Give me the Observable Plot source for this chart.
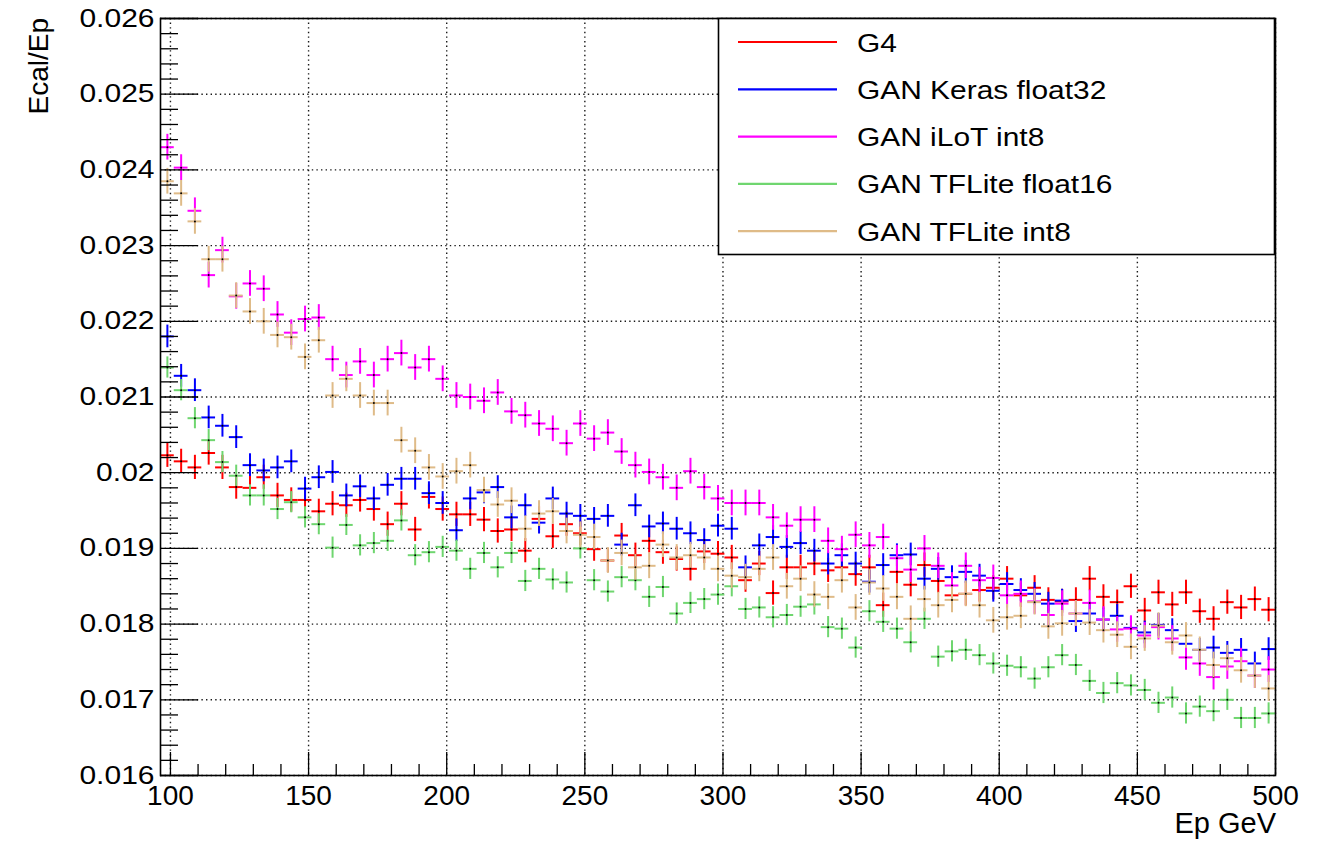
<!DOCTYPE html>
<html><head><meta charset="utf-8">
<script src="https://cdn.jsdelivr.net/npm/d3@7"></script>
<script src="https://cdn.jsdelivr.net/npm/@observablehq/plot@0.6"></script>
<style>
html,body{margin:0;padding:0;background:#fff;}
#wrap{position:relative;width:1327px;height:841px;}
</style></head><body><div id="wrap"></div>
<script>
// ---- data -------------------------------------------------------------
const seriesNames = ["G4", "GAN Keras float32", "GAN iLoT int8", "GAN TFLite float16", "GAN TFLite int8"];
const seriesColors = ["#ff0000", "#0000ff", "#ff00ff", "#6fd66f", "#dfbb88"];

// histogram binning of Ep (GeV): 81 bins over the axis range
const binRange = [96.4, 500];
const nBins = 81;

const g4 = [0.02023,0.02015,0.02007,0.02026,0.02007,0.01981,0.01980,0.01994,0.01970,0.01964,
0.01964,0.01949,0.01959,0.01957,0.01964,0.01952,0.01932,0.01959,0.01925,0.01968,
0.01952,0.01945,0.01945,0.01938,0.01923,0.01925,0.01897,0.01939,0.01916,0.01932,
0.01920,0.01899,0.01884,0.01917,0.01891,0.01910,0.01895,0.01886,0.01873,0.01896,
0.01893,0.01888,0.01858,0.01880,0.01841,0.01875,0.01875,0.01880,0.01871,0.01875,
0.01866,0.01875,0.01825,0.01869,0.01852,0.01878,0.01857,0.01838,0.01840,0.01845,
0.01848,0.01860,0.01838,0.01848,0.01832,0.01830,0.01832,0.01860,0.01836,0.01829,
0.01850,0.01818,0.01842,0.01826,0.01842,0.01817,0.01807,0.01829,0.01822,0.01833,0.01819];

const kerasF32 = [0.02180,0.02128,0.02109,0.02073,0.02062,0.02047,0.02010,0.02003,0.02007,0.02015,
0.01979,0.01994,0.02001,0.01970,0.01982,0.01966,0.01984,0.01992,0.01992,0.01973,
0.01960,0.01924,0.01966,0.01974,0.01981,0.01941,0.01957,0.01934,0.01966,0.01946,
0.01943,0.01939,0.01943,0.01905,0.01957,0.01929,0.01933,0.01926,0.01920,0.01911,
0.01930,0.01926,0.01875,0.01904,0.01915,0.01902,0.01907,0.01897,0.01880,0.01891,
0.01880,0.01856,0.01878,0.01891,0.01892,0.01860,0.01873,0.01862,0.01869,0.01864,
0.01844,0.01853,0.01845,0.01840,0.01827,0.01831,0.01804,0.01814,0.01806,0.01811,
0.01795,0.01789,0.01799,0.01792,0.01774,0.01766,0.01769,0.01762,0.01766,0.01748,0.01767];

const ilotInt8 = [0.02430,0.02403,0.02346,0.02261,0.02294,0.02233,0.02250,0.02243,0.02209,0.02185,
0.02203,0.02205,0.02150,0.02129,0.02147,0.02129,0.02150,0.02158,0.02139,0.02150,
0.02124,0.02102,0.02100,0.02095,0.02106,0.02081,0.02076,0.02065,0.02058,0.02039,
0.02065,0.02045,0.02053,0.02028,0.02010,0.02001,0.01994,0.01980,0.02002,0.01981,
0.01966,0.01960,0.01960,0.01960,0.01941,0.01930,0.01938,0.01938,0.01910,0.01899,
0.01918,0.01904,0.01915,0.01887,0.01872,0.01900,0.01877,0.01851,0.01877,0.01858,
0.01861,0.01838,0.01840,0.01830,0.01812,0.01827,0.01814,0.01828,0.01806,0.01793,
0.01794,0.01785,0.01796,0.01781,0.01756,0.01748,0.01730,0.01744,0.01751,0.01732,0.01740];

const tfliteF16 = [0.02139,0.02109,0.02072,0.02043,0.02014,0.01996,0.01970,0.01970,0.01952,0.01961,
0.01941,0.01932,0.01901,0.01931,0.01904,0.01907,0.01910,0.01937,0.01891,0.01895,
0.01902,0.01897,0.01873,0.01894,0.01875,0.01894,0.01857,0.01873,0.01859,0.01855,
0.01900,0.01858,0.01843,0.01862,0.01858,0.01836,0.01849,0.01814,0.01828,0.01833,
0.01839,0.01850,0.01820,0.01822,0.01809,0.01812,0.01823,0.01826,0.01796,0.01794,
0.01769,0.01817,0.01803,0.01794,0.01776,0.01807,0.01757,0.01764,0.01766,0.01759,
0.01748,0.01745,0.01743,0.01728,0.01743,0.01759,0.01746,0.01725,0.01709,0.01722,
0.01719,0.01713,0.01696,0.01703,0.01682,0.01691,0.01685,0.01700,0.01676,0.01676,0.01682];

const tfliteInt8 = [0.02385,0.02369,0.02332,0.02282,0.02282,0.02234,0.02213,0.02200,0.02182,0.02179,
0.02153,0.02175,0.02102,0.02124,0.02102,0.02092,0.02092,0.02043,0.02029,0.02007,
0.01995,0.02002,0.02010,0.01977,0.01958,0.01963,0.01926,0.01946,0.01949,0.01923,
0.01918,0.01915,0.01884,0.01894,0.01875,0.01877,0.01905,0.01888,0.01891,0.01888,
0.01873,0.01864,0.01862,0.01873,0.01888,0.01850,0.01860,0.01839,0.01836,0.01858,
0.01822,0.01855,0.01847,0.01836,0.01807,0.01833,0.01825,0.01832,0.01840,0.01825,
0.01805,0.01809,0.01811,0.01829,0.01797,0.01801,0.01814,0.01802,0.01792,0.01786,
0.01770,0.01781,0.01798,0.01776,0.01785,0.01766,0.01746,0.01755,0.01739,0.01732,0.01715];

const seriesValues = [g4, kerasF32, ilotInt8, tfliteF16, tfliteInt8];
// typical half-length of the vertical error bars
const seriesErr = [0.00016, 0.00015, 0.00017, 0.00014, 0.00017];

const xTicks = [100, 150, 200, 250, 300, 350, 400, 450, 500];
const xTickLabels = ["100", "150", "200", "250", "300", "350", "400", "450", "500"];
const yTicks = [0.016, 0.017, 0.018, 0.019, 0.020, 0.021, 0.022, 0.023, 0.024, 0.025, 0.026];
const yTickLabels = ["0.016", "0.017", "0.018", "0.019", "0.02", "0.021", "0.022", "0.023", "0.024", "0.025", "0.026"];
const xTitle = "Ep GeV";
const yTitle = "Ecal/Ep";

// ---- build --------------------------------------------------------------
const bw = (binRange[1] - binRange[0]) / nBins;
const rows = [];
seriesValues.forEach((vals, s) => {
  vals.forEach((v, k) => {
    const lo = binRange[0] + k * bw;
    rows.push({series: seriesNames[s], lo, hi: lo + bw, x: lo + bw / 2, y: v, e: seriesErr[s]});
  });
});
const xMinor = d3.range(110, 500, 10).filter(d => d % 50 !== 0);
const yMinor = d3.range(0, 51).map(i => 0.016 + i * 0.0002).filter((d, i) => i % 5 !== 0);
const xLab = new Map(xTicks.map((d, i) => [d, xTickLabels[i]]));
const yLab = new Map(yTicks.map((d, i) => [d, yTickLabels[i]]));

const W = 1327, H = 841, mL = 160, mR = 52, mT = 18, mB = 66;
const innerW = W - mL - mR, innerH = H - mT - mB;

const gridStyle = {stroke: "#000", strokeOpacity: 0.9, strokeWidth: 1.4, strokeDasharray: "1.4,3.2"};
const marks = [
  Plot.gridX(xTicks, gridStyle),
  Plot.gridY(yTicks, gridStyle),
];
seriesNames.forEach((name) => {
  const d = rows.filter(r => r.series === name);
  marks.push(
    Plot.ruleY(d, {y: "y", x1: "lo", x2: "hi", stroke: "series", strokeWidth: 2}),
    Plot.ruleX(d, {x: "x", y1: r => r.y - r.e, y2: r => r.y + r.e, stroke: "series", strokeWidth: 2}),
    Plot.dot(d, {x: "x", y: "y", r: 1, fill: "#000", stroke: null})
  );
});
marks.push(
  // inward ticks (ROOT style)
  Plot.ruleX(xTicks, {x: d => d, insetTop: innerH - 23, stroke: "#000", strokeWidth: 1.3}),
  Plot.ruleX(xMinor, {x: d => d, insetTop: innerH - 11, stroke: "#000", strokeWidth: 1.3}),
  Plot.ruleY(yTicks, {y: d => d, insetRight: innerW - 38, stroke: "#000", strokeWidth: 1.3}),
  Plot.ruleY(yMinor, {y: d => d, insetRight: innerW - 18, stroke: "#000", strokeWidth: 1.3}),
  Plot.frame({stroke: "#000", strokeWidth: 1.6}),
  Plot.axisX(xTicks, {tickSize: 0, tickPadding: 10, tickFormat: d => xLab.get(d), label: null}),
  Plot.axisY(yTicks, {tickSize: 0, tickPadding: 6, tickFormat: d => yLab.get(d), label: null})
);

const svg = Plot.plot({
  width: W, height: H,
  marginLeft: mL, marginRight: mR, marginTop: mT, marginBottom: mB,
  x: {domain: binRange},
  y: {domain: [0.016, 0.026]},
  color: {domain: seriesNames, range: seriesColors},
  style: {fontFamily: "'Liberation Sans', Arial, sans-serif", fontSize: "24px", color: "#000", background: "#fff", overflow: "visible"},
  marks
});
document.getElementById("wrap").appendChild(svg);

const S = d3.select(svg);
const font = "'Liberation Sans', Arial, sans-serif";
function stretch(sel, k) {
  sel.each(function () {
    const L = this.getComputedTextLength();
    this.setAttribute("textLength", (L * k).toFixed(1));
    this.setAttribute("lengthAdjust", "spacingAndGlyphs");
  });
}
const yt = S.selectAll('g[aria-label="y-axis tick label"] text').attr("font-size", 25).attr("fill", "#000");
stretch(yt, 1.2);
S.selectAll('g[aria-label="x-axis tick label"] text').attr("font-size", 28).attr("fill", "#000");

// axis titles
S.append("text").attr("x", 1276).attr("y", 833).attr("text-anchor", "end")
  .attr("font-family", font).attr("font-size", 29).attr("fill", "#000").text(xTitle);
S.append("text").attr("transform", "translate(48,18) rotate(-90)").attr("text-anchor", "end")
  .attr("font-family", font).attr("font-size", 28).attr("fill", "#000").text(yTitle);

// legend box
const lg = S.append("g");
lg.append("rect").attr("x", 718.5).attr("y", 18.5).attr("width", 556).attr("height", 236)
  .attr("fill", "#fff").attr("stroke", "#000").attr("stroke-width", 1.6);
seriesNames.forEach((name, i) => {
  const cy = 42 + i * 47.3;
  lg.append("line").attr("x1", 738).attr("x2", 837).attr("y1", cy).attr("y2", cy)
    .attr("stroke", seriesColors[i]).attr("stroke-width", 2.2);
  const t = lg.append("text").attr("x", 857).attr("y", cy + 9.5).attr("text-anchor", "start")
    .attr("font-family", font).attr("font-size", 26).attr("fill", "#000").text(name);
  stretch(t, 1.15);
});
</script></body></html>
